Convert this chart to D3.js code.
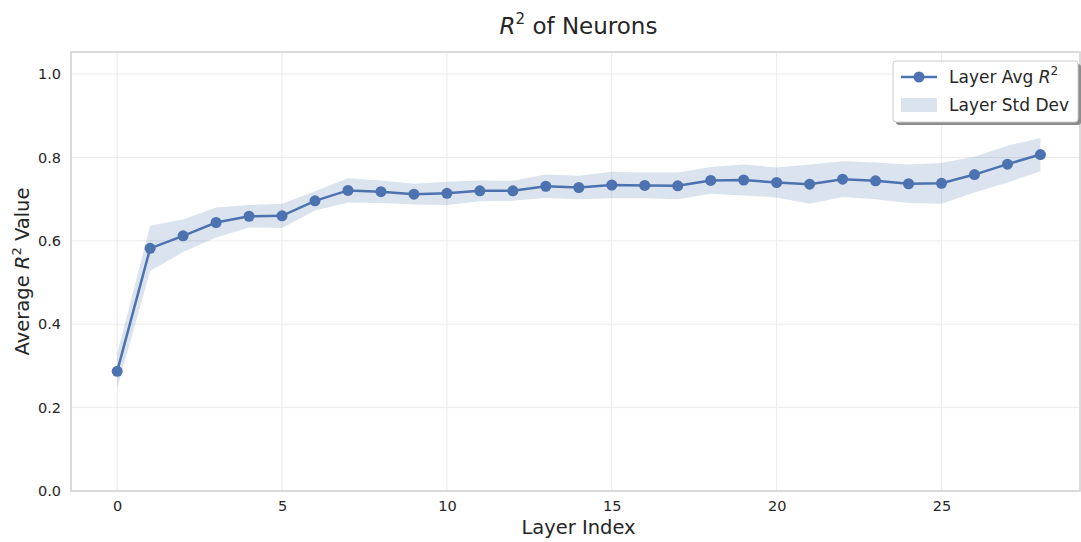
<!DOCTYPE html>
<meta charset="utf-8">
<script src="https://d3js.org/d3.v7.min.js"></script>
<style>
  body { margin: 0; background: #fff; }
  text { font-family: "DejaVu Sans", sans-serif; fill: #262626; }
</style>
<div id="my_dataviz"></div>
<script>

// data
var layers = d3.range(0, 29);
var avgR2 = [0.287, 0.582, 0.612, 0.644, 0.659, 0.660, 0.696, 0.721, 0.718, 0.712,
             0.714, 0.720, 0.720, 0.731, 0.728, 0.734, 0.733, 0.732, 0.745, 0.746,
             0.740, 0.736, 0.748, 0.744, 0.737, 0.738, 0.759, 0.784, 0.807];
var stdR2 = [0.042, 0.054, 0.039, 0.036, 0.027, 0.029, 0.023, 0.029, 0.027, 0.025,
             0.028, 0.025, 0.024, 0.028, 0.028, 0.032, 0.031, 0.032, 0.032, 0.037,
             0.036, 0.047, 0.043, 0.044, 0.046, 0.049, 0.043, 0.044, 0.040];
var xTicks = [0, 5, 10, 15, 20, 25];
var yTicks = [0.0, 0.2, 0.4, 0.6, 0.8, 1.0];

var data = layers.map(function(l, i) { return { layer: l, mean: avgR2[i], std: stdR2[i] }; });

var W = 1081, H = 542;
var margin = {top: 52, right: 1, bottom: 51, left: 71},
    width = W - margin.left - margin.right,
    height = H - margin.top - margin.bottom;

var blue = "#4c72b0";

var svg = d3.select("#my_dataviz")
  .append("svg")
    .attr("width", W)
    .attr("height", H);

var g = svg.append("g")
    .attr("transform", "translate(" + margin.left + "," + margin.top + ")");

var x = d3.scaleLinear().domain([-1.4, 29.2]).range([0, width]);
var y = d3.scaleLinear().domain([0, 1.053]).range([height, 0]);

// grid
g.append("g").selectAll("line").data(xTicks).join("line")
    .attr("x1", d => x(d)).attr("x2", d => x(d))
    .attr("y1", 0).attr("y2", height)
    .attr("stroke", "#ebebeb").attr("stroke-width", 1);
g.append("g").selectAll("line").data(yTicks).join("line")
    .attr("x1", 0).attr("x2", width)
    .attr("y1", d => y(d)).attr("y2", d => y(d))
    .attr("stroke", "#ebebeb").attr("stroke-width", 1);

// axes (labels only, no tick marks)
var xAxis = g.append("g")
    .attr("transform", "translate(0," + height + ")")
    .call(d3.axisBottom(x).tickValues(xTicks).tickSize(0).tickPadding(10).tickFormat(d3.format("d")));
var yAxis = g.append("g")
    .call(d3.axisLeft(y).tickValues(yTicks).tickSize(0).tickPadding(10).tickFormat(d3.format(".1f")));
[xAxis, yAxis].forEach(function(a) {
  a.select(".domain").remove();
  a.selectAll("text").attr("font-size", 14.5).attr("fill", "#262626")
    .attr("font-family", "DejaVu Sans, sans-serif");
});

// spines
g.append("rect")
    .attr("x", 0).attr("y", 0).attr("width", width).attr("height", height)
    .attr("fill", "none").attr("stroke", "#d0d0d0").attr("stroke-width", 1.5);

// std band
g.append("path")
    .datum(data)
    .attr("fill", blue).attr("fill-opacity", 0.2)
    .attr("d", d3.area()
      .x(d => x(d.layer))
      .y0(d => y(d.mean - d.std))
      .y1(d => y(d.mean + d.std)));

// mean line
g.append("path")
    .datum(data)
    .attr("fill", "none").attr("stroke", blue).attr("stroke-width", 2.5)
    .attr("d", d3.line().x(d => x(d.layer)).y(d => y(d.mean)));

g.append("g").selectAll("circle").data(data).join("circle")
    .attr("cx", d => x(d.layer)).attr("cy", d => y(d.mean))
    .attr("r", 5.5).attr("fill", blue);

// title
var title = svg.append("text")
    .attr("x", margin.left + width / 2 + 3).attr("y", 34)
    .attr("text-anchor", "middle").attr("font-size", 23);
title.append("tspan").attr("font-style", "italic").text("R");
title.append("tspan").attr("font-size", 15).attr("dy", -10).text("2");
title.append("tspan").attr("dy", 10).text(" of Neurons");

// axis labels
svg.append("text")
    .attr("x", margin.left + width / 2 + 3).attr("y", 534)
    .attr("text-anchor", "middle").attr("font-size", 19.5)
    .text("Layer Index");

var yl = svg.append("text")
    .attr("transform", "translate(29," + (margin.top + height / 2) + ") rotate(-90)")
    .attr("text-anchor", "middle").attr("font-size", 19.5);
yl.append("tspan").text("Average ");
yl.append("tspan").attr("font-style", "italic").text("R");
yl.append("tspan").attr("font-size", 13).attr("dy", -8).text("2");
yl.append("tspan").attr("dy", 8).text(" Value");

// legend
var lg = svg.append("g").attr("transform", "translate(893,61)");
lg.append("rect").attr("x", 3).attr("y", 3).attr("width", 185).attr("height", 61)
    .attr("rx", 3).attr("fill", "#8c8c8c");
lg.append("rect").attr("x", 0).attr("y", 0).attr("width", 185).attr("height", 61)
    .attr("rx", 3).attr("fill", "#fff").attr("stroke", "#cccccc").attr("stroke-width", 1);
lg.append("line").attr("x1", 8).attr("x2", 44).attr("y1", 16).attr("y2", 16)
    .attr("stroke", blue).attr("stroke-width", 2.5);
lg.append("circle").attr("cx", 26).attr("cy", 16).attr("r", 5.5).attr("fill", blue);
lg.append("rect").attr("x", 8).attr("y", 37).attr("width", 36).attr("height", 14)
    .attr("fill", blue).attr("fill-opacity", 0.2);
var t1 = lg.append("text").attr("x", 56).attr("y", 22).attr("font-size", 17);
t1.append("tspan").text("Layer Avg ");
t1.append("tspan").attr("font-style", "italic").text("R");
t1.append("tspan").attr("font-size", 12).attr("dy", -8).text("2");
lg.append("text").attr("x", 56).attr("y", 50).attr("font-size", 17).text("Layer Std Dev");

</script>
